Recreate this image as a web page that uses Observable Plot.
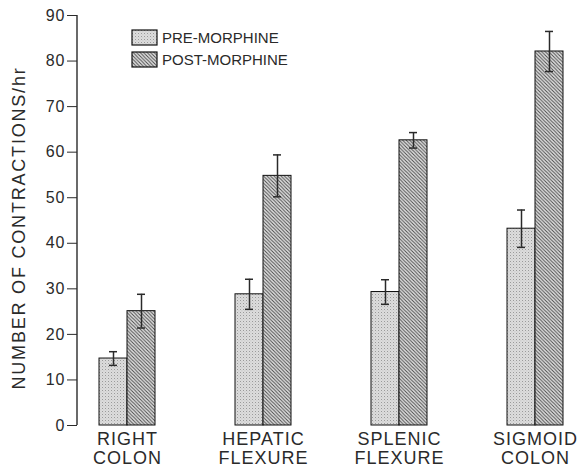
<!DOCTYPE html>
<html>
<head>
<meta charset="utf-8">
<script src="https://cdn.jsdelivr.net/npm/d3@7"></script>
<script src="https://cdn.jsdelivr.net/npm/@observablehq/plot@0.6"></script>
<style>
  body { margin: 0; background: #fff; }
  #chart svg { display: block; font-family: "Liberation Sans", Arial, sans-serif; }
  g[aria-label="x-axis tick label"] text { letter-spacing: 1px; }
  g[aria-label="y-axis tick label"] text { letter-spacing: 1px; }
</style>
</head>
<body>
<div id="chart"></div>
<script>
const categories = ["RIGHT\nCOLON", "HEPATIC\nFLEXURE", "SPLENIC\nFLEXURE", "SIGMOID\nCOLON"];
const preMorphine = [14.7, 28.8, 29.3, 43.2];
const preErr = [1.5, 3.3, 2.7, 4.1];
const postMorphine = [25.1, 54.8, 62.6, 82.1];
const postErr = [3.7, 4.6, 1.7, 4.4];
const yTicks = [0, 10, 20, 30, 40, 50, 60, 70, 80, 90];
const seriesNames = ["PRE-MORPHINE", "POST-MORPHINE"];
const yLabel = "NUMBER OF CONTRACTIONS/hr";

const data = categories.map((c, i) => ({
  cat: c, pre: preMorphine[i], preE: preErr[i], post: postMorphine[i], postE: postErr[i]
}));

const ink = "#2a2a2a";
const plot = Plot.plot({
  width: 578,
  height: 468,
  marginLeft: 77,
  marginRight: 10,
  marginTop: 15,
  marginBottom: 43,
  style: { fontFamily: "Liberation Sans, Arial, sans-serif", color: ink, background: "#fff" },
  x: { domain: categories, paddingInner: 0.59, paddingOuter: 0.091, align: 0.8, axis: null },
  y: { domain: [0, 90], ticks: yTicks, axis: null },
  marks: [
    Plot.axisY({ ticks: yTicks, tickSize: 10, tickPadding: 2, fontSize: 16, label: null, stroke: ink, fill: ink }),
    Plot.axisX({ tickSize: 0, tickPadding: 6, fontSize: 18, lineHeight: 1.05, label: null, fill: ink }),
    Plot.barY(data, { x: "cat", y: "pre", insetRight: 28, fill: "url(#pre-pat)", stroke: "#111", strokeWidth: 1 }),
    Plot.barY(data, { x: "cat", y: "post", insetLeft: 28, fill: "url(#post-pat)", stroke: "#111", strokeWidth: 1 }),
    Plot.ruleX(data, { x: "cat", y1: d => d.pre - d.preE, y2: d => d.pre + d.preE, dx: -14, stroke: ink, strokeWidth: 1.5 }),
    Plot.tickY(data, { x: "cat", y: d => d.pre + d.preE, dx: -14, insetLeft: 24, insetRight: 24, stroke: ink, strokeWidth: 1.5 }),
    Plot.tickY(data, { x: "cat", y: d => d.pre - d.preE, dx: -14, insetLeft: 24, insetRight: 24, stroke: ink, strokeWidth: 1.5 }),
    Plot.ruleX(data, { x: "cat", y1: d => d.post - d.postE, y2: d => d.post + d.postE, dx: 14, stroke: ink, strokeWidth: 1.5 }),
    Plot.tickY(data, { x: "cat", y: d => d.post + d.postE, dx: 14, insetLeft: 24, insetRight: 24, stroke: ink, strokeWidth: 1.5 }),
    Plot.tickY(data, { x: "cat", y: d => d.post - d.postE, dx: 14, insetLeft: 24, insetRight: 24, stroke: ink, strokeWidth: 1.5 })
  ]
});

const svg = d3.select(plot);
const defs = svg.insert("defs", ":first-child");
const pp = defs.append("pattern").attr("id", "pre-pat").attr("patternUnits", "userSpaceOnUse").attr("width", 3).attr("height", 3);
pp.append("rect").attr("width", 3).attr("height", 3).attr("fill", "#dcdcdc");
pp.append("rect").attr("x", 0).attr("y", 0).attr("width", 1).attr("height", 1).attr("fill", "#9a9a9a");
pp.append("rect").attr("x", 1.5).attr("y", 1.5).attr("width", 0.8).attr("height", 0.8).attr("fill", "#b4b4b4");
const hp = defs.append("pattern").attr("id", "post-pat").attr("patternUnits", "userSpaceOnUse").attr("width", 3.5).attr("height", 3.5);
hp.append("rect").attr("width", 3.5).attr("height", 3.5).attr("fill", "#e2e2e2");
hp.append("path").attr("d", "M-1,-1 L4.5,4.5 M-1,2.5 L1,4.5 M2.5,-1 L4.5,1").attr("stroke", "#4a4a4a").attr("stroke-width", 1);

// y axis line along the scale's extent
const ys = plot.scale("y");
svg.append("line").attr("x1", 77).attr("x2", 77)
  .attr("y1", ys.apply(yTicks[0])).attr("y2", ys.apply(yTicks[yTicks.length - 1]))
  .attr("stroke", ink).attr("stroke-width", 1.4);

// legend
const leg = svg.append("g").attr("font-size", 15).attr("fill", ink).attr("text-anchor", "start");
seriesNames.forEach((name, i) => {
  const y0 = 30 + i * 22;
  leg.append("rect").attr("x", 132).attr("y", y0).attr("width", 25).attr("height", 15)
    .attr("fill", i === 0 ? "url(#pre-pat)" : "url(#post-pat)").attr("stroke", "#111").attr("stroke-width", 1.2);
  leg.append("text").attr("x", 162).attr("y", y0 + 13).text(name);
});

// y label
svg.append("text").attr("transform", "translate(25,228) rotate(-90)").attr("text-anchor", "middle")
  .attr("font-size", 18).attr("letter-spacing", "1.8px").attr("fill", ink).text(yLabel);

document.getElementById("chart").appendChild(plot);
</script>
</body>
</html>
